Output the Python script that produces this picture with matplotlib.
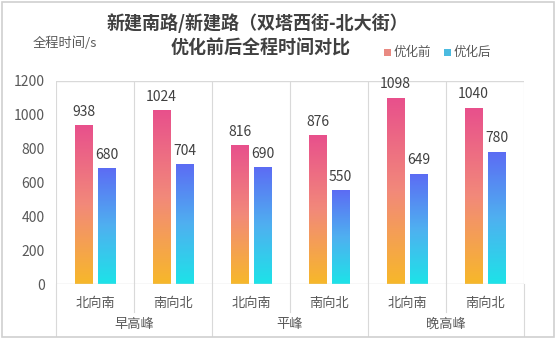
import numpy as np
import matplotlib
matplotlib.use('Agg')
import matplotlib.pyplot as plt
from matplotlib.colors import LinearSegmentedColormap
from matplotlib.patches import Rectangle
from matplotlib.lines import Line2D

plt.rcParams['font.family'] = ['Noto Sans CJK SC', 'DejaVu Sans']

# data
directions = ['北向南', '南向北', '北向南', '南向北', '北向南', '南向北']
periods = ['早高峰', '平峰', '晚高峰']
before = [938, 1024, 816, 876, 1098, 1040]
after = [680, 704, 690, 550, 649, 780]
series_names = ['优化前', '优化后']

cmap_before = LinearSegmentedColormap.from_list('b', ['#f7b82a', '#f2897a', '#e8508c'])
cmap_after = LinearSegmentedColormap.from_list('a', ['#1de3e8', '#4fb0f0', '#5c6cf4'])

fig = plt.figure(figsize=(5.56, 3.39), dpi=100)
fig.patches.append(Rectangle((0.004, 0.006), 0.992, 0.988, transform=fig.transFigure,
                             fill=False, edgecolor='#d0d0d0', lw=1.2))
ax = fig.add_axes([0.1007, 0.1622, 0.8417, 0.5989])

grid = '#d9d9d9'
txt = '#595959'
n = len(directions)

grad = np.linspace(0, 1, 256).reshape(-1, 1)
w = 0.22
off = 0.147
for i in range(n):
    for vals, cm, sgn in [(before, cmap_before, -1), (after, cmap_after, 1)]:
        xc = i + 0.5 + sgn * off
        v = vals[i]
        ax.imshow(grad, cmap=cm, origin='lower', aspect='auto',
                  extent=[xc - w / 2, xc + w / 2, 0, v], zorder=2)
        ax.text(xc, v + 40, str(v), ha='center', va='bottom', fontsize=10, color='#404040')

ax.set_xlim(0, n)
ax.set_ylim(0, 1200)

for s in ['right', 'bottom', 'top', 'left']:
    ax.spines[s].set_visible(False)
ax.axhline(0, color=grid, lw=1, zorder=3)
ax.axhline(1200, color=grid, lw=1, zorder=1)
for i in range(n + 1):
    ax.axvline(i, color=grid, lw=0.8, zorder=1)
    bottom = -0.256 if i % 2 == 0 else -0.138
    ax.add_line(Line2D([i / n, i / n], [0, bottom], transform=ax.transAxes,
                       color=grid, lw=0.8, clip_on=False))

ax.set_yticks(range(0, 1201, 200))
ax.tick_params(axis='y', length=0, labelsize=10, labelcolor=txt, pad=8)
ax.set_xticks([])

for i, d in enumerate(directions):
    ax.text((i + 0.5) / n, -0.096, d, transform=ax.transAxes, ha='center', va='center',
            fontsize=9.5, color=txt)
for j, p in enumerate(periods):
    ax.text((2 * j + 1) / n, -0.2, p, transform=ax.transAxes, ha='center', va='center',
            fontsize=9.5, color=txt)

fig.text(0.463, 0.932, '新建南路/新建路（双塔西街-北大街）', ha='center', va='center',
         fontsize=13, fontweight='bold', color='#404040')
fig.text(0.468, 0.858, '优化前后全程时间对比', ha='center', va='center',
         fontsize=13, fontweight='bold', color='#404040')
fig.text(0.058, 0.873, '全程时间/s', ha='left', va='center', fontsize=9.5, color=txt)

# legend
for k, (name, col) in enumerate(zip(series_names, ['#e98a82', '#4bbbe0'])):
    x0 = 0.69 + k * 0.108
    fig.patches.append(Rectangle((x0, 0.834), 0.013, 0.022, transform=fig.transFigure,
                                 facecolor=col, edgecolor='none'))
    fig.text(x0 + 0.017, 0.845, name, ha='left', va='center', fontsize=9, color=txt)

fig.savefig('out.png', dpi=100)
